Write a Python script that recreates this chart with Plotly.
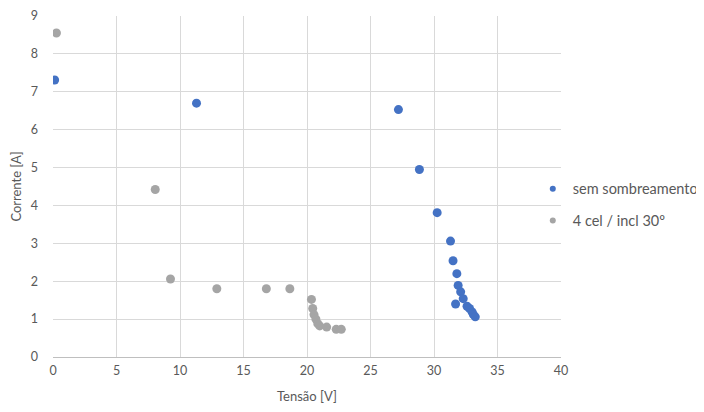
import plotly.graph_objects as go

# Data
sem_x = [0.13, 11.3, 27.2, 28.85, 30.25, 31.3, 31.5, 31.8, 31.9, 32.1, 32.3, 31.7, 32.6, 32.8, 33.0, 33.1, 33.25]
sem_y = [7.31, 6.70, 6.53, 4.95, 3.81, 3.06, 2.54, 2.20, 1.89, 1.72, 1.54, 1.40, 1.34, 1.28, 1.19, 1.12, 1.06]

cel_x = [0.27, 8.05, 9.25, 12.9, 16.8, 18.65, 20.35, 20.45, 20.55, 20.7, 20.85, 21.0, 21.55, 22.3, 22.7]
cel_y = [8.55, 4.42, 2.06, 1.80, 1.80, 1.80, 1.52, 1.28, 1.12, 1.00, 0.88, 0.82, 0.79, 0.73, 0.73]

series_names = ["sem sombreamento", "4 cel / incl 30º"]
series_colors = ["#4472C4", "#A5A5A5"]

x_ticks = [0, 5, 10, 15, 20, 25, 30, 35, 40]
y_ticks = [0, 1, 2, 3, 4, 5, 6, 7, 8, 9]

FONT = "Lato"
GREY_TXT = "#595959"

fig = go.Figure()
for xs, ys, name, col in [(sem_x, sem_y, series_names[0], series_colors[0]),
                          (cel_x, cel_y, series_names[1], series_colors[1])]:
    fig.add_trace(go.Scatter(x=xs, y=ys, mode="markers", name=name, showlegend=False,
                             legendgroup=name, marker=dict(color=col, size=9)))
    # legend entry with the small marker used by the reference
    fig.add_trace(go.Scatter(x=[None], y=[None], mode="markers", name=name, showlegend=True,
                             legendgroup=name, marker=dict(color=col, size=6)))

# the page body has an 8px margin, so the figure is sized to fit inside the 704x412 window
fig.update_layout(
    width=696, height=404,
    margin=dict(l=45, r=143, t=8, b=55, autoexpand=False),
    paper_bgcolor="white", plot_bgcolor="white",
    font=dict(family=FONT, size=12, color=GREY_TXT),
    showlegend=True,
    legend=dict(xref="container", yref="container", x=0.754, xanchor="left",
                y=0.513, yanchor="middle",
                bgcolor="rgba(0,0,0,0)", font=dict(size=14.5, color=GREY_TXT),
                itemwidth=30, tracegroupgap=10),
    xaxis=dict(range=[0, 40], tickvals=x_ticks, showgrid=True, gridcolor="#D9D9D9",
               zeroline=False, showline=True, linecolor="#BFBFBF", ticks="",
               automargin=False, tickfont=dict(size=12.5), ticklabelstandoff=2,
               title=dict(text="Tensão [V]", font=dict(size=13, color=GREY_TXT), standoff=14)),
    yaxis=dict(range=[0, 9], tickvals=y_ticks, showgrid=True, gridcolor="#D9D9D9",
               zeroline=False, showline=False, ticks="",
               automargin=False, tickfont=dict(size=12.5), ticklabelstandoff=14,
               title=dict(text="Corrente [A]", font=dict(size=13, color=GREY_TXT), standoff=14)),
)

fig.write_html("out.html")
